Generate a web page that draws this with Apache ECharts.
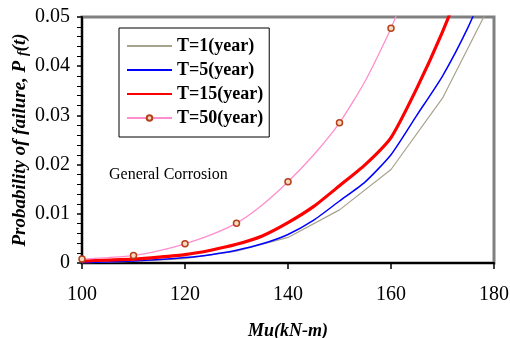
<!DOCTYPE html>
<html>
<head>
<meta charset="utf-8">
<script src="https://cdn.jsdelivr.net/npm/echarts@6/dist/echarts.min.js"></script>
<style>
  html, body { margin: 0; padding: 0; background: #fff; }
  #main { width: 510px; height: 338px; }
</style>
</head>
<body>
<div id="main"></div>
<script>
// moment capacity Mu (kN-m)
var mu10 = [100, 110, 120, 130, 140, 150, 160, 170, 180]
var mu5 = [100, 105, 110, 115, 120, 125, 130, 135, 140, 145, 150, 155, 160, 165, 170, 175, 180]

// probability of failure per exposure time
var pfT1 = [0.0000, 0.0003, 0.0009, 0.0024, 0.0052, 0.0108, 0.0190, 0.0335, 0.0541]
var pfT5 = [0.0001, 0.0002, 0.0004, 0.0007, 0.0011, 0.0017, 0.0026, 0.0039, 0.0058, 0.0087, 0.0126, 0.0165, 0.0220, 0.0300, 0.0380, 0.0480, 0.0600]
var pfT15 = [0.0004, 0.0006, 0.0008, 0.0012, 0.0017, 0.0026, 0.0038, 0.0055, 0.0082, 0.0115, 0.0157, 0.0200, 0.0255, 0.0355, 0.0470, 0.0600]
var pfT50 = [0.0008, 0.0011, 0.0015, 0.0025, 0.0039, 0.0057, 0.0081, 0.0118, 0.0165, 0.0220, 0.0285, 0.0370, 0.0477, 0.0610]

var seriesNames = ['T=1(year)', 'T=5(year)', 'T=15(year)', 'T=50(year)']
var yTicks = ['0', '0.01', '0.02', '0.03', '0.04', '0.05']

function pairs (xs, ys) {
  var out = []
  for (var i = 0; i < ys.length; i++) out.push([xs[i], ys[i]])
  return out
}

// markers only every 10 kN-m on the T=50 curve
var t50Data = pairs(mu5, pfT50).map(function (p) {
  return p[0] % 10 === 0 ? {value: p} : {value: p, symbol: 'none'}
})

var serif = '"Liberation Serif", "Times New Roman", serif'
var noMarker = {color: 'rgba(0,0,0,0)', borderColor: 'rgba(0,0,0,0)', opacity: 0}

var option = {
  animation: false,
  grid: {
    left: 82, right: 16, top: 17, bottom: 75,
    outerBoundsMode: 'none',
    show: true, borderColor: '#808080', borderWidth: 3, backgroundColor: '#fff'
  },
  legend: {
    orient: 'vertical',
    left: 119, top: 28,
    padding: [9, 6, 10, 7],
    itemWidth: 45, itemHeight: 7, itemGap: 6,
    borderColor: '#000', borderWidth: 1, backgroundColor: '#fff',
    textStyle: {fontFamily: serif, fontWeight: 'bold', fontSize: 18, color: '#000'},
    data: [
      {name: seriesNames[0], itemStyle: noMarker},
      {name: seriesNames[1], itemStyle: noMarker},
      {name: seriesNames[2], itemStyle: noMarker},
      {name: seriesNames[3]}
    ]
  },
  graphic: [{
    type: 'text', left: 109, top: 167,
    style: {text: 'General Corrosion', font: '16px ' + serif, fill: '#000'}
  }],
  xAxis: {
    type: 'value', min: 100, max: 180, interval: 20,
    name: 'Mu(kN-m)', nameLocation: 'middle', nameGap: 59, nameMoveOverlap: false,
    nameTextStyle: {fontFamily: serif, fontWeight: 'bold', fontStyle: 'italic', fontSize: 18, color: '#000'},
    axisLine: {lineStyle: {color: '#000', width: 2}},
    axisTick: {length: 6, lineStyle: {color: '#000', width: 1.5}},
    axisLabel: {margin: 22, fontFamily: serif, fontSize: 20, color: '#000'},
    splitLine: {show: false}
  },
  yAxis: {
    type: 'value', min: 0, max: 0.05, interval: 0.01,
    name: 'Probability of failure, P {s|f}(t)', nameLocation: 'middle', nameGap: 52, nameMoveOverlap: false,
    nameTextStyle: {
      fontFamily: serif, fontWeight: 'bold', fontStyle: 'italic', fontSize: 19, color: '#000',
      rich: {s: {fontFamily: serif, fontWeight: 'bold', fontStyle: 'italic', fontSize: 14, color: '#000', padding: [6, 0, 0, 0]}}
    },
    axisLine: {lineStyle: {color: '#000', width: 2}},
    axisTick: {length: 5, lineStyle: {color: '#000', width: 1.5}},
    minorTick: {show: true, splitNumber: 5, length: 5, lineStyle: {color: '#000', width: 1}},
    axisLabel: {
      margin: 12, fontFamily: serif, fontSize: 20, color: '#000',
      formatter: function (v) { return yTicks[Math.round(v * 100)] }
    },
    splitLine: {show: false}
  },
  series: [
    {
      name: seriesNames[0], type: 'line', symbol: 'none', z: 2,
      lineStyle: {color: '#a8a38c', width: 1.2}, itemStyle: {color: '#a8a38c'},
      data: pairs(mu10, pfT1)
    },
    {
      name: seriesNames[1], type: 'line', symbol: 'none', smooth: 0.2, z: 3,
      lineStyle: {color: '#0000ff', width: 1.5}, itemStyle: {color: '#0000ff'},
      data: pairs(mu5, pfT5)
    },
    {
      name: seriesNames[2], type: 'line', symbol: 'none', smooth: 0.2, z: 4,
      lineStyle: {color: '#ff0000', width: 3.2}, itemStyle: {color: '#ff0000'},
      data: pairs(mu5, pfT15)
    },
    {
      name: seriesNames[3], type: 'line', symbol: 'circle', symbolSize: 6, smooth: 0.2, z: 5,
      lineStyle: {color: '#ff8fcc', width: 1.3},
      itemStyle: {color: '#f6d9c0', borderColor: '#b5401a', borderWidth: 1.5},
      data: t50Data
    }
  ]
}

var chart = echarts.init(document.getElementById('main'))
chart.setOption(option)
</script>
</body>
</html>
